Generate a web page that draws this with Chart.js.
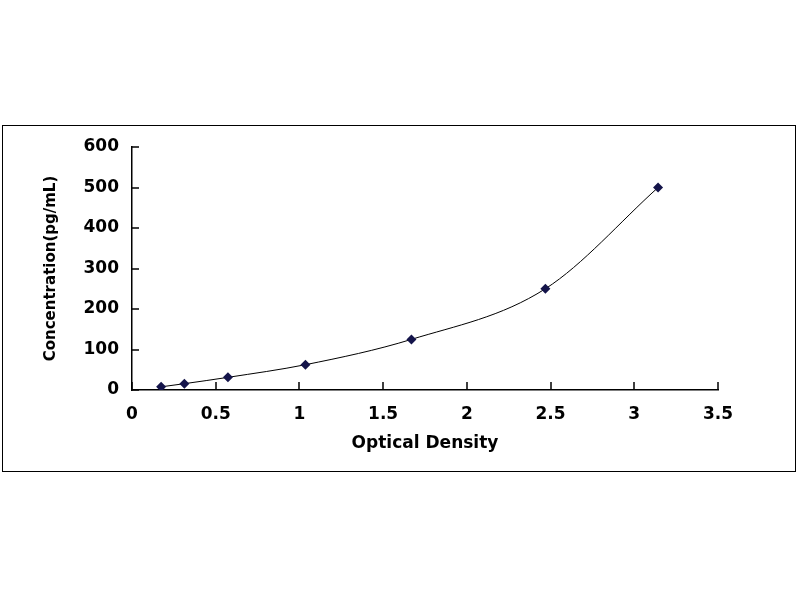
<!DOCTYPE html>
<html>
<head>
<meta charset="utf-8">
<script src="https://cdn.jsdelivr.net/npm/chart.js@4/dist/chart.umd.min.js"></script>
<style>
  body { margin: 0; background: #fff; }
  #frame {
    position: absolute;
    left: 2px; top: 125px;
    width: 794px; height: 347px;
    border: 1.5px solid #000;
    box-sizing: border-box;
  }
  #wrap { position: absolute; left: 0; top: 0; width: 800px; height: 600px; }
</style>
</head>
<body>
<div id="frame"></div>
<div id="wrap"><canvas id="myChart" width="800" height="600"></canvas></div>

<script>
// standard curve
const od   = [0.174, 0.313, 0.573, 1.036, 1.669, 2.469, 3.142];
const conc = [7.8, 15.6, 31.25, 62.5, 125, 250, 500];
const xTicks = [0, 0.5, 1, 1.5, 2, 2.5, 3, 3.5];
const yTicks = [0, 100, 200, 300, 400, 500, 600];

const tickFont = { family: 'DejaVu Sans', size: 17, weight: 'bold' };

// excel style tick marks pointing into the plot
const innerTicks = {
  id: 'innerTicks',
  afterDraw(chart) {
    const ctx = chart.ctx, xs = chart.scales.x, ys = chart.scales.y;
    ctx.save();
    ctx.strokeStyle = '#000';
    ctx.lineWidth = 1.5;
    ctx.beginPath();
    xTicks.forEach(v => {
      const px = Math.round(xs.getPixelForValue(v));
      ctx.moveTo(px, ys.bottom); ctx.lineTo(px, ys.bottom - 8);
    });
    yTicks.forEach(v => {
      const py = Math.round(ys.getPixelForValue(v));
      ctx.moveTo(xs.left, py); ctx.lineTo(xs.left + 7, py);
    });
    ctx.stroke();
    ctx.restore();
  }
};

new Chart('myChart', {
  type: 'scatter',
  data: {
    datasets: [{
      data: od.map((v, i) => ({ x: v, y: conc[i] })),
      showLine: true,
      borderColor: '#000',
      borderWidth: 1,
      cubicInterpolationMode: 'monotone',
      pointStyle: 'rectRot',
      pointRadius: 5,
      pointBackgroundColor: '#14144a',
      pointBorderColor: '#14144a',
      pointBorderWidth: 0
    }]
  },
  options: {
    responsive: false,
    animation: false,
    layout: { padding: { left: 32, top: 147, right: 82, bottom: 142 } },
    plugins: { legend: { display: false }, tooltip: { enabled: false } },
    scales: {
      x: {
        type: 'linear',
        min: 0, max: 3.5,
        afterBuildTicks: s => { s.ticks = xTicks.map(v => ({ value: v })); },
        afterFit: s => { s.height = 68; },
        grid: { display: true, drawOnChartArea: false, drawTicks: false },
        border: { color: '#000', width: 1.5 },
        ticks: { color: '#000', font: tickFont, padding: 14, maxRotation: 0,
                 callback: v => String(v) },
        title: { display: true, text: 'Optical Density', color: '#000',
                 font: { family: 'DejaVu Sans', size: 17, weight: 'bold' } }
      },
      y: {
        min: 0, max: 600,
        afterBuildTicks: s => { s.ticks = yTicks.map(v => ({ value: v })); },
        afterFit: s => { s.width = 100; },
        grid: { display: true, drawOnChartArea: false, drawTicks: false },
        border: { color: '#000', width: 1.5 },
        ticks: { color: '#000', font: tickFont, padding: 13 },
        title: { display: true, text: 'Concentration(pg/mL)', color: '#000',
                 font: { family: 'DejaVu Sans', size: 15, weight: 'bold' },
                 padding: { top: 10, bottom: 4 } }
      }
    }
  },
  plugins: [innerTicks]
});
</script>
</body>
</html>
